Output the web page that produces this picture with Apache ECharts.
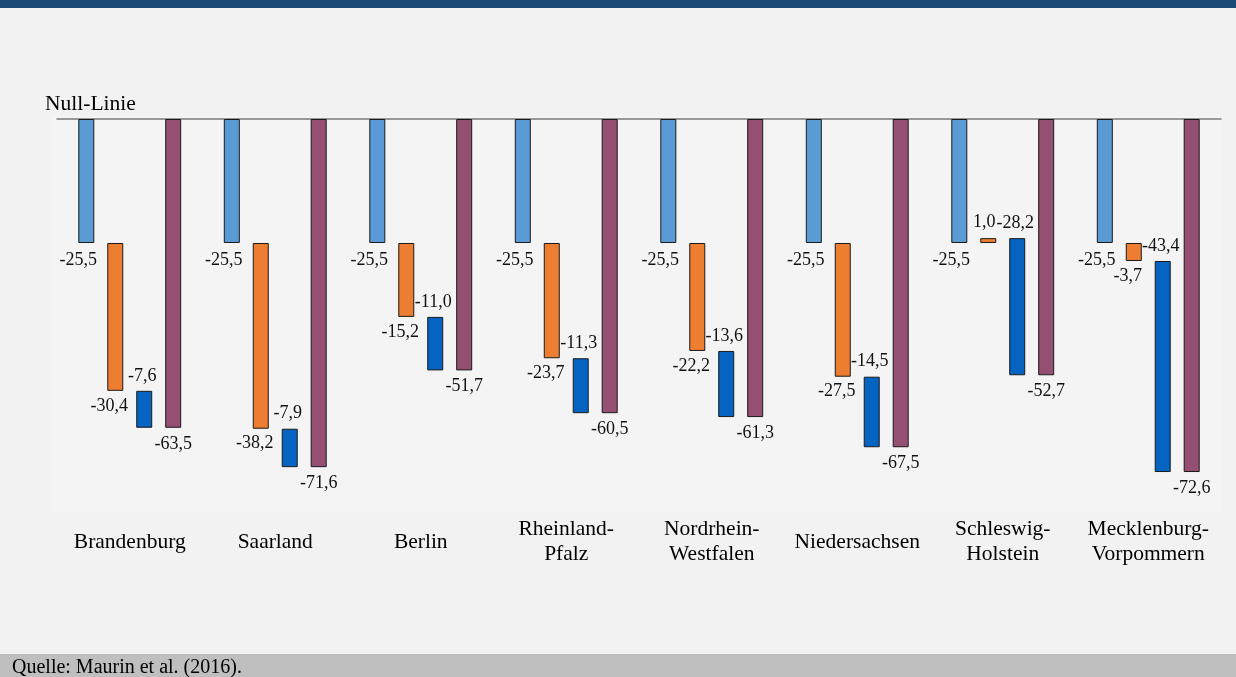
<!DOCTYPE html>
<html>
<head>
<meta charset="utf-8">
<script src="https://cdn.jsdelivr.net/npm/echarts@6/dist/echarts.min.js"></script>
<style>
  html, body { margin: 0; padding: 0; background: #f2f2f2; }
  #chart { width: 1236px; height: 677px; }
</style>
</head>
<body>
<div id="chart"></div>
<script>
// Bundesländer shown along the axis
const categories = ['Brandenburg', 'Saarland', 'Berlin', 'Rheinland-\nPfalz', 'Nordrhein-\nWestfalen',
  'Niedersachsen', 'Schleswig-\nHolstein', 'Mecklenburg-\nVorpommern'];
// first step, shared by all states
const stepOne = [-25.5, -25.5, -25.5, -25.5, -25.5, -25.5, -25.5, -25.5];
// second step (orange)
const stepTwo = [-30.4, -38.2, -15.2, -23.7, -22.2, -27.5, 1.0, -3.7];
// third step (dark blue)
const stepThree = [-7.6, -7.9, -11.0, -11.3, -13.6, -14.5, -28.2, -43.4];
// resulting total (purple)
const totals = [-63.5, -71.6, -51.7, -60.5, -61.3, -67.5, -52.7, -72.6];

// invisible offsets that let each floating step start where the previous one ended
const stepTwoBase = stepOne.slice();
const stepThreeBase = stepOne.map((v, i) => v + stepTwo[i]);

const fmt = v => (v).toFixed(1).replace('.', ',');
const serif = '"Liberation Serif", "Times New Roman", serif';

const labelBase = {
  show: true, fontFamily: serif, fontSize: 18, color: '#111',
  formatter: p => fmt(p.value), distance: 5
};
const barStyle = color => ({ color: color, borderColor: '#1a1a1a', borderWidth: 1 });
const hidden = {
  type: 'bar', barWidth: 16, barGap: '81%', silent: true,
  itemStyle: { color: 'transparent', borderWidth: 0 },
  label: { show: false }, emphasis: { disabled: true }, tooltip: { show: false }
};

const chart = echarts.init(document.getElementById('chart'), null, { renderer: 'canvas' });
chart.setOption({
  backgroundColor: '#f2f2f2',
  animation: false,
  textStyle: { fontFamily: serif },
  graphic: [
    { type: 'rect', z: -10, shape: { x: 52, y: 116, width: 1170, height: 397 }, style: { fill: '#f4f4f4' } },
    { type: 'rect', shape: { x: 0, y: 0, width: 1236, height: 8 }, style: { fill: '#1c4a77' } },
    { type: 'rect', shape: { x: 0, y: 654, width: 1236, height: 23 }, style: { fill: '#bfbfbf' } },
    { type: 'text', left: 12, top: 658, style: { text: 'Quelle: Maurin et al. (2016).', font: '20px ' + serif, fill: '#000' } },
    { type: 'text', left: 45, top: 93, style: { text: 'Null-Linie', font: '21.5px ' + serif, fill: '#000' } }
  ],
  grid: { left: 57, right: 15, top: 119, bottom: 169, containLabel: false },
  xAxis: [
    {
      type: 'category', data: categories, position: 'bottom',
      axisLine: { show: false, onZero: false }, axisTick: { show: false },
      axisLabel: { interval: 0, fontSize: 21.5, fontFamily: serif, color: '#000', lineHeight: 25,
        verticalAlign: 'middle', margin: 34 }
    },
    {
      type: 'category', data: categories, position: 'top',
      axisLine: { show: true, onZero: false, lineStyle: { color: '#7a7a7a', width: 1.5 } },
      axisTick: { show: false }, axisLabel: { show: false }
    }
  ],
  yAxis: { type: 'value', min: -80, max: 0, show: false, splitLine: { show: false } },
  series: [
    {
      name: 'Schritt 1', type: 'bar', stack: 'a', barWidth: 16, barGap: '81%', data: stepOne,
      itemStyle: barStyle('#5b9bd5'),
      label: Object.assign({}, labelBase, { position: 'bottom', offset: [-8, 3] })
    },
    Object.assign({ name: 'b0', stack: 'b', stackStrategy: 'all', data: stepTwoBase }, hidden),
    {
      name: 'Schritt 2', type: 'bar', stack: 'b', stackStrategy: 'all', barWidth: 16, barGap: '81%',
      data: stepTwo.map(v => v > 0
        ? { value: v, label: { position: 'top', offset: [-4, -2] } }
        : { value: v }),
      itemStyle: barStyle('#ed7d31'),
      label: Object.assign({}, labelBase, { position: 'bottom', offset: [-6, 1] })
    },
    Object.assign({ name: 'c0', stack: 'c', stackStrategy: 'all', data: stepThreeBase }, hidden),
    {
      name: 'Schritt 3', type: 'bar', stack: 'c', stackStrategy: 'all', barWidth: 16, barGap: '81%',
      data: stepThree, itemStyle: barStyle('#0563c1'),
      label: Object.assign({}, labelBase, { position: 'top', offset: [-2, -1] })
    },
    {
      name: 'Gesamt', type: 'bar', stack: 'd', barWidth: 16, barGap: '81%', data: totals,
      itemStyle: barStyle('#954f72'),
      label: Object.assign({}, labelBase, { position: 'bottom', offset: [0, 2] })
    }
  ]
});
</script>
</body>
</html>
